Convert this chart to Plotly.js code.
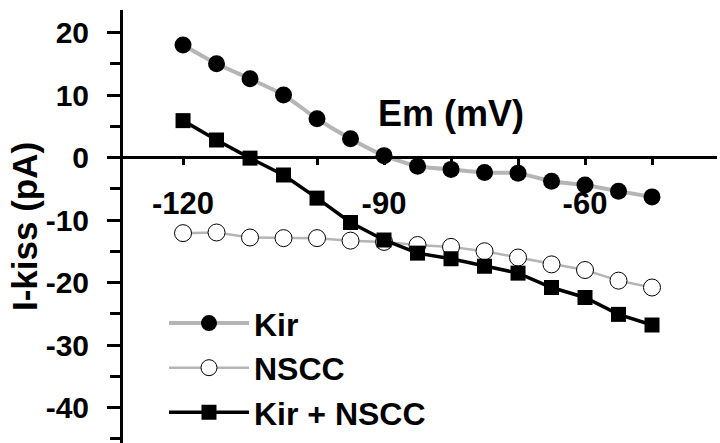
<!DOCTYPE html>
<html>
<head>
<meta charset="utf-8">
<script src="https://cdn.plot.ly/plotly-3.0.1.min.js"></script>
<style>html,body{margin:0;padding:0;background:#fff;}#chart{width:720px;height:443px;}</style>
</head>
<body>
<div id="chart"></div>
<script>
// Membrane potential (mV)
const em = [-120, -115, -110, -105, -100, -95, -90, -85, -80, -75, -70, -65, -60, -55, -50];
// Currents (pA)
const kir = [18.0, 15.0, 12.6, 10.0, 6.2, 3.0, 0.3, -1.4, -1.9, -2.4, -2.5, -3.8, -4.4, -5.4, -6.3];
const nscc = [-12.1, -12.0, -12.8, -12.9, -12.9, -13.3, -13.5, -14.0, -14.3, -15.0, -16.0, -17.1, -18.0, -19.7, -20.8];
const kirNscc = [5.9, 2.8, -0.1, -2.8, -6.5, -10.4, -13.2, -15.3, -16.2, -17.4, -18.5, -20.8, -22.4, -25.1, -26.8];
const seriesNames = ['Kir', 'NSCC', 'Kir + NSCC'];
const xTickVals = [-120, -90, -60];
const xTickText = ['-120', '-90', '-60'];
const yTickVals = [-40, -30, -20, -10, 0, 10, 20];
const yTickText = ['-40', '-30', '-20', '-10', '0', '10', '20'];

const FONT = 'Liberation Sans, Arial, sans-serif';
const traces = [
  {x: em, y: kir, name: seriesNames[0], type: 'scatter', mode: 'lines+markers',
   line: {color: '#b5b5b5', width: 4, shape: 'spline', smoothing: 0.6},
   marker: {symbol: 'circle', size: 17, color: '#000'}},
  {x: em, y: nscc, name: seriesNames[1], type: 'scatter', mode: 'lines+markers',
   line: {color: '#b5b5b5', width: 2.5},
   marker: {symbol: 'circle', size: 17, color: '#fff', line: {color: '#000', width: 1}}},
  {x: em, y: kirNscc, name: seriesNames[2], type: 'scatter', mode: 'lines+markers',
   line: {color: '#000', width: 3.5},
   marker: {symbol: 'square', size: 15, color: '#000'}}
];

const layout = {
  width: 720, height: 443,
  margin: {l: 123, r: 3, t: 10, b: 0},
  paper_bgcolor: '#fff', plot_bgcolor: '#fff',
  font: {family: FONT, color: '#000', weight: 'bold'},
  showlegend: true,
  legend: {x: 0.069, y: 0.34, xanchor: 'left', yanchor: 'top', bgcolor: 'rgba(0,0,0,0)',
           itemwidth: 80,
           font: {family: FONT, size: 32, color: '#000', weight: 'bold'}, tracegroupgap: 0},
  xaxis: {
    range: [-128.96, -40.3], anchor: 'free', position: 0.6594,
    showline: true, linecolor: '#000', linewidth: 3, showgrid: false, zeroline: false,
    tickmode: 'array', tickvals: xTickVals, ticktext: xTickText,
    ticks: 'outside', ticklen: 6, tickwidth: 3, tickcolor: '#000',
    ticklabelstandoff: 11,
    tickfont: {family: FONT, size: 31, color: '#000', weight: 'bold'},
    minor: {tickmode: 'linear', tick0: -120, dtick: 10, ticks: 'outside', ticklen: 6, tickwidth: 3, tickcolor: '#000', showgrid: false}
  },
  yaxis: {
    range: [-45.68, 23.6],
    showline: true, linecolor: '#000', linewidth: 3, showgrid: false, zeroline: false,
    tickmode: 'array', tickvals: yTickVals, ticktext: yTickText,
    ticks: 'outside', ticklen: 13, tickwidth: 3, tickcolor: '#000',
    ticklabelstandoff: 12,
    tickfont: {family: FONT, size: 30, color: '#000', weight: 'bold'},
    minor: {tickmode: 'linear', tick0: 0, dtick: 5, ticks: 'outside', ticklen: 10, tickwidth: 3, tickcolor: '#000', showgrid: false},
    title: {text: 'I-kiss (pA)', font: {family: FONT, size: 35, color: '#000', weight: 'bold'}}
  },
  annotations: [
    {text: 'Em (mV)', xref: 'x', yref: 'y', x: -80, y: 7, showarrow: false,
     xanchor: 'center', yanchor: 'middle',
     font: {family: FONT, size: 36, color: '#000', weight: 'bold'}}
  ]
};

Plotly.newPlot('chart', traces, layout, {displayModeBar: false, staticPlot: true});
</script>
</body>
</html>
